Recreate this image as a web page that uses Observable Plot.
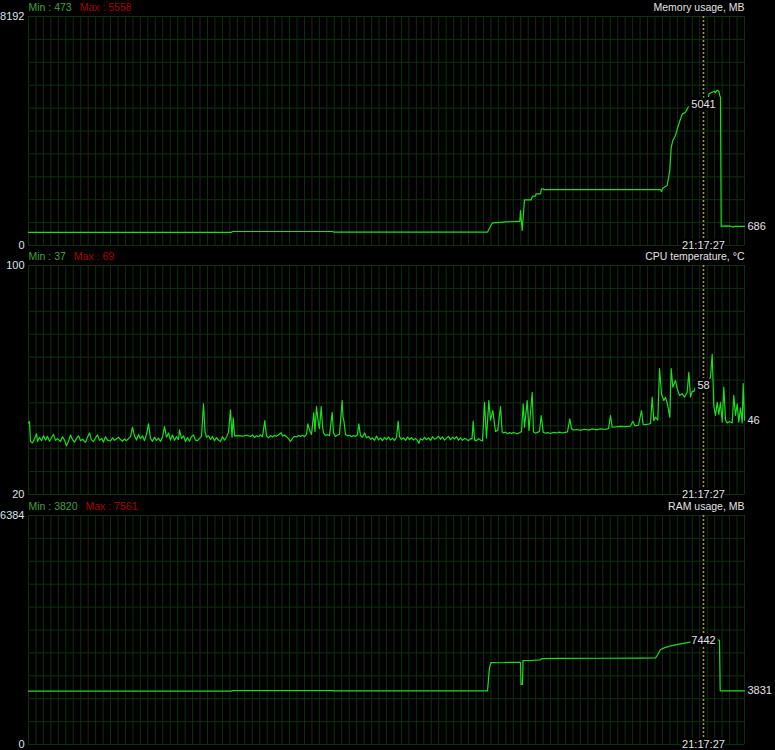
<!DOCTYPE html>
<html>
<head>
<meta charset="utf-8">
<script src="https://cdn.jsdelivr.net/npm/d3@7"></script>
<script src="https://cdn.jsdelivr.net/npm/@observablehq/plot@0.6"></script>
<style>
  html, body { margin: 0; padding: 0; background: #000; }
  #chart { width: 775px; height: 750px; overflow: hidden; background: #000; }
  #chart svg { display: block; overflow: visible; }
</style>
</head>
<body>
<div id="chart"></div>
<script>
// ---------- shared time axis ----------
const windowLength = 716;          // samples in the history window
const cursorTime = 675;            // sample under the cursor
const cursorLabel = "21:17:27";
const gridDivisionsX = 96;
const gridDivisionsY = 10;

// ---------- panel headers ----------
const titles = ["Memory usage, MB", "CPU temperature, °C", "RAM usage, MB"];
const minValues = [473, 37, 3820];
const maxValues = [5558, 69, 7561];
const cursorValues = [5041, 58, 7442];
const lastValues = [686, 46, 3831];

// ---------- y scales / tick labels ----------
const memDomain = [0, 8192];
const memTicks = [0, 8192];
const memTickLabels = ["0", "8192"];
const cpuDomain = [20, 100];
const cpuTicks = [20, 100];
const cpuTickLabels = ["20", "100"];
const ramDomain = [0, 16384];
const ramTicks = [0, 16384];
const ramTickLabels = ["0", "6384"];

// ---------- Memory usage, MB ----------
const memTime = [0,203,204,304,305,459,461,464,472,477,482,490,491.3,492,493.7,496,502.7,504,507,507.5,512,513,514.5,515.3,632,633,634.3,638.7,641.3,642.7,644.3,647,649.3,652,653.7,657,659.7,662,667,675,679,680.5,683.7,686,686.7,688.7,690.3,691.3,692,692.7,697,702,705,706,716];
const memValue = [473,473,500,500,480,480,620,812,830,845,850,860,860,1250,540,1635,1635,1765,1765,1850,1850,2030,2030,2000,2000,1930,2050,2146,2680,3505,3755,3935,4230,4530,4700,4770,4950,5000,5020,5041,5120,5426,5484,5520,5462,5558,5520,5366,5300,686,700,690,660,686,686];

// ---------- CPU temperature, °C ----------
const cpuTime = [0,1,2,4,6,8,9,11,13,15,17,19,21,23,25,27,29,32,34,36,38,40,42,44,46,48,50,52,54,57,59,61,63,65,67,69,71,73,75,77,79,82,84,86,88,90,92,94,96,98,100,102,104,106,108,110,112,114,116,118,120,122,124,126,128,130,132,134,136,138,140,142,144,146,148,150,151,153,155,157,159,161,163,165,167,169,171,173,175,176.5,178,180,182,184,186,188,190,192,194,196,198,200,202,203.5,204.7,206,210,214,218,222,224,226,228,230,232,234,236.3,238,240,242,244,246,248,250,252.7,254,256,258,260,262,264,266,268,270,272,274,276,278,279.3,281,283,285.3,286.5,288,290,291,292.7,294,295,297,299,301,303.7,305,307,309,311,313.7,314.5,315.5,317,319,321,323,325,327,329,330.3,332,334,336,338,340,342,344,346,348,350,352,354,356,358,360,362,364,366,368,369.7,371,373,375,377,379,381,383,385,387,389,390.3,392,394,396,398,400,402,404,406,408,410,412,414,416,418,420,422,424,426,428,430,432,434,436,438,440,442,443.5,444.7,446,448,450,452,454,456,458,460.3,462,464.3,467,469.3,472,473.7,475,477,479,481,483,485,487,489,491,493,494.7,496,498.7,500.5,503.7,505,507,509,511,512.7,514.7,517,519,522,525,528,531,534,537,539,541.3,543,545,548,552,556,560,564,568,572,576,580,582,583.7,587,592,597,602,604.3,606.3,610,613,614.7,617,620,622,623.7,625.3,627,629.3,631,633,635.3,637,639.3,641.3,642.7,644.3,647,648.7,651,653.7,656,658.7,660.3,662,663.7,665.3,667,669,672,675,678,680.3,682,683.7,685.3,687,688.7,690.3,692,693.7,695.3,697,698.7,701,703.7,705.3,707,708.7,710.3,712,713.7,714.7,716];
const cpuTemp = [45,45.5,38.5,38,39.5,41.2,38.5,40,38.8,40.5,39,40.3,38.6,39.8,41,38.9,39.5,38.5,40.2,39,37,38.5,40.8,39.2,38.3,39.6,40.5,38.8,39.3,38.2,40,41.5,39,38.5,39.8,40.8,38.9,39.6,38.3,40.2,39,38.7,39.8,38.9,39.5,40,39.2,38.6,39.4,38.8,39.5,40.2,43.5,40.5,39,41,39.5,40.5,38.8,41,44.7,39.5,38.6,40,38.9,39.7,38.5,40.1,43.7,40,41.5,39,40.8,38.9,40.2,39.2,42.6,39.5,40.5,38.5,39.9,38.6,40.3,40.8,39,38.8,39.6,40.3,51.7,42,40,40.5,39.2,40.3,38.8,39.9,39,38.5,40.2,39,40,41.8,49.6,40,46.8,40.5,40.6,40.4,40.7,40.3,40.8,39.9,40.5,40.2,40.8,40.2,45.8,40.5,39.8,40.6,40.1,40.7,40.3,40.9,41.6,40.4,40.8,40.2,39.5,38.5,39.6,40.3,40.1,40.6,40.3,40.7,40.2,41,44.7,42.5,41,48.5,42,50.7,44.5,43,50.7,44,41.5,40.6,40.9,40.5,48.7,41.5,40.3,40.8,41,52.8,47,45.5,41,40.5,40.7,40.2,40.6,40.3,40.9,44.7,40.5,40,41.5,39.8,40.3,39.3,39.8,38.9,40.4,39.1,39.8,38.8,39.9,39.2,40.1,39,39.7,38.9,40,45.6,40.2,39.2,39.8,38.9,40.1,39.2,39.9,39,39.6,38.8,37.9,39.5,39,40,39.2,39.8,38.9,40.2,39.3,39.6,40.4,39.3,40.1,39,39.7,40.3,39.1,40,39.4,40.2,39,39.8,38.9,39.6,39.3,38.8,39.5,39.4,45.6,39,38.8,39.5,39,38.7,52.2,39.7,52.8,46,49.3,42,42.4,50.7,41.8,41.5,41.8,41.2,41.6,41.3,41.7,41.4,41.2,41.6,42,51.7,43.5,52.8,42.4,55.7,41.8,41.4,41.7,42,47.6,41.8,41.4,41.6,41.3,41.7,41.5,41.8,41.5,41.7,41.9,46.4,43,42.5,42.7,42.4,42.8,42.5,42.9,42.6,42.9,42.7,43,47.6,43.5,43.6,43.8,43.7,43.9,45.6,44,44.2,49.3,44.5,44.4,44.6,44.8,54,45.8,47,46,64,55.2,52.8,54,51,47,64,57.5,59.8,57,54.6,55.2,54,55.7,62.7,54,56,56,57.5,58.5,58,58,59,60,61,69,51,47.6,52.2,48,52.2,45.3,57.5,46,45,45.5,45,54.6,47.6,51.7,45.3,50.3,45,58.7,46];

// ---------- RAM usage, MB ----------
const ramTime = [0,203,204,304,305,459,461,462.5,472,482,491,492,492.5,494,494.5,502,512,513,532,572,612,627,629,632,637,642,652,662,672,675,682,687,690,691,691.7,716];
const ramValue = [3820,3820,3860,3860,3840,3840,5500,5867,5850,5880,5870,5860,4300,4300,6000,6010,6060,6150,6160,6170,6180,6200,6400,6800,6950,7050,7200,7330,7420,7442,7500,7561,7480,7450,3831,3831];

// ---------- styling ----------
const bg = "#000000";
const gridColor = "#0f2f0f";
const lineColor = "#1edc1e";
const cursorColor = "#a89a2c";
const minColor = "#3fa43f";
const maxColor = "#aa0000";
const labelColor = "#e2e2e2";
const axisColor = "#dde2e8";
const fontFamily = "Arial, 'Liberation Sans', sans-serif";
const fontSize = 10.5;

const measureCtx = document.createElement("canvas").getContext("2d");
measureCtx.font = `${fontSize}px ${fontFamily}`;

const xGrid = d3.range(0, gridDivisionsX + 1).map(i => i * windowLength / gridDivisionsX);

function panel(idx, time, values, domain, ticks, tickLabels, height, marginBottom) {
  const data = time.map((t, i) => ({t, v: values[i]}));
  const yGrid = d3.range(0, gridDivisionsY + 1).map(i => domain[0] + i * (domain[1] - domain[0]) / gridDivisionsY);
  const labelMap = new Map(ticks.map((d, i) => [d, tickLabels[i]]));
  const minText = `Min : ${minValues[idx]}`;
  const maxText = `Max : ${maxValues[idx]}`;
  const maxDx = measureCtx.measureText(minText).width + 8;
  return Plot.plot({
    width: 775,
    height,
    marginLeft: 28,
    marginRight: 31,
    marginTop: 16,
    marginBottom,
    style: {background: bg, color: labelColor, fontFamily, fontSize: `${fontSize}px`, overflow: "visible"},
    x: {domain: [0, windowLength], axis: null},
    y: {domain, axis: null},
    marks: [
      Plot.gridX(xGrid, {stroke: gridColor, strokeOpacity: 1, strokeWidth: 1}),
      Plot.gridY(yGrid, {stroke: gridColor, strokeOpacity: 1, strokeWidth: 1}),
      Plot.ruleX([cursorTime], {stroke: cursorColor, strokeWidth: 1.6, strokeDasharray: "2,2"}),
      Plot.line(data, {x: "t", y: "v", stroke: lineColor, strokeWidth: 1.2}),
      Plot.axisY(ticks, {anchor: "left", tickSize: 0, tickPadding: 4, label: null, tickFormat: d => labelMap.get(d), fill: axisColor, fontSize: 11}),
      Plot.text([minText], {text: d => d, frameAnchor: "top-left", dy: -6, lineAnchor: "bottom", textAnchor: "start", fill: minColor, fontSize}),
      Plot.text([maxText], {text: d => d, frameAnchor: "top-left", dx: maxDx, dy: -6, lineAnchor: "bottom", textAnchor: "start", fill: maxColor, fontSize}),
      Plot.text([titles[idx]], {text: d => d, frameAnchor: "top-right", dy: -6, lineAnchor: "bottom", textAnchor: "end", fill: labelColor, fontSize}),
      Plot.text([{t: cursorTime, v: cursorValues[idx]}], {x: "t", y: "v", text: d => String(d.v), lineAnchor: "middle", fill: labelColor, stroke: bg, strokeWidth: 6, fontSize: 11}),
      Plot.text([{t: windowLength, v: lastValues[idx]}], {x: "t", y: "v", text: d => String(d.v), textAnchor: "start", dx: 3, lineAnchor: "middle", fill: labelColor, stroke: bg, strokeWidth: 4, fontSize: 11}),
      Plot.text([cursorLabel], {x: () => cursorTime, text: d => d, frameAnchor: "bottom", lineAnchor: "middle", fill: labelColor, stroke: bg, strokeWidth: 4, fontSize: 11})
    ]
  });
}

const chart = document.getElementById("chart");
chart.append(panel(0, memTime, memValue, memDomain, memTicks, memTickLabels, 249, 4));
chart.append(panel(1, cpuTime, cpuTemp, cpuDomain, cpuTicks, cpuTickLabels, 250, 5));
chart.append(panel(2, ramTime, ramValue, ramDomain, ramTicks, ramTickLabels, 251, 6));
</script>
</body>
</html>
